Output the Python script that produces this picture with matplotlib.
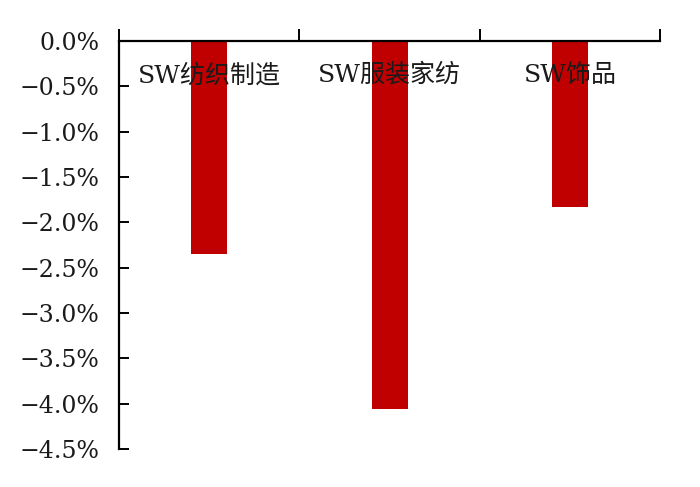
import matplotlib
matplotlib.use("Agg")
import matplotlib.pyplot as plt
from matplotlib.ticker import FuncFormatter

plt.rcParams['font.family'] = ['DejaVu Serif', 'Noto Sans CJK SC']

categories = ["SW纺织制造", "SW服装家纺", "SW饰品"]
values = [-2.35, -4.06, -1.83]  # percent
y_ticks = [0.0, -0.5, -1.0, -1.5, -2.0, -2.5, -3.0, -3.5, -4.0, -4.5]


def pct(v, pos):
    if abs(v) < 1e-9:
        return "0.0%"
    return "\u2212%.1f%%" % abs(v)


fig = plt.figure(figsize=(7, 4.87), dpi=100)
ax = fig.add_axes([0.17, 0.078, 0.773, 0.838])

x = list(range(len(categories)))
ax.bar(x, values, width=0.2, color="#C00000", zorder=2)

ax.set_xlim(-0.5, len(categories) - 0.5)
ax.set_ylim(-4.5, 0)

ax.spines['bottom'].set_visible(False)
ax.spines['right'].set_visible(False)
ax.spines['top'].set_linewidth(1.6)
ax.spines['left'].set_linewidth(1.6)

ax.xaxis.tick_top()
ax.set_xticks([i - 0.5 for i in range(len(categories) + 1)])
ax.set_xticklabels([])
ax.tick_params(axis='x', direction='out', length=9, width=1.4)

ax.set_yticks(y_ticks)
ax.yaxis.set_major_formatter(FuncFormatter(pct))
ax.tick_params(axis='y', direction='in', length=7, width=1.4, labelsize=17, pad=14)
for lbl in ax.get_yticklabels():
    lbl.set_color("#1a1a1a")

for i, name in enumerate(categories):
    ax.text(i, -0.38, name, ha='center', va='center', fontsize=18, color="#1a1a1a", zorder=3)

fig.savefig("out.png", dpi=100, facecolor="white")
